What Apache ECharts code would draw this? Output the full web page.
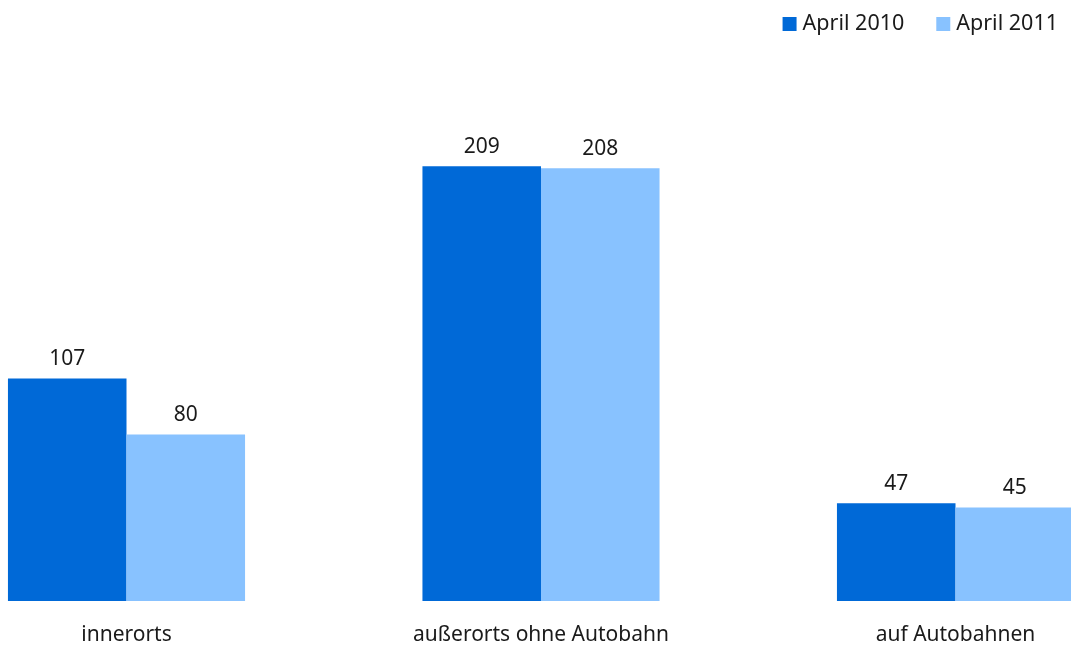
<!DOCTYPE html>
<html><head><meta charset="utf-8">
<script src="https://cdn.jsdelivr.net/npm/echarts@6/dist/echarts.min.js"></script>
<style>html,body{margin:0;padding:0;background:#fff}#c{width:1071px;height:648px}</style>
</head><body><div id="c"></div>
<script>
const categories = ['innerorts', 'außerorts ohne Autobahn', 'auf Autobahnen'];
const seriesNames = ['April 2010', 'April 2011'];
const values2010 = [107, 209, 47];
const values2011 = [80, 208, 45];
const colors = ['#0069D7', '#88C2FF'];

const chart = echarts.init(document.getElementById('c'));
const font = 'Noto Sans';
const labelStyle = {show: true, position: 'top', distance: 9, color: '#1a1a1a', fontFamily: font, fontSize: 21};
chart.setOption({
  animation: false,
  textStyle: {fontFamily: font},
  legend: {
    right: 8, top: 8, itemWidth: 14, itemHeight: 14, itemGap: 32,
    icon: 'rect',
    textStyle: {fontSize: 21.5, color: '#1a1a1a', fontFamily: font, padding: [0,0,0,1]},
    data: seriesNames
  },
  grid: {left: -80.75, width: 1243.5, top: 81, height: 520, containLabel: false, outerBoundsMode: 'none'},
  xAxis: {
    type: 'category', data: categories,
    axisLine: {show: false}, axisTick: {show: false},
    axisLabel: {color: '#1a1a1a', fontSize: 21, fontFamily: font, margin: 24}
  },
  yAxis: {type: 'value', min: 0, max: 250, show: false, splitLine: {show: false}},
  series: [
    {name: seriesNames[0], type: 'bar', data: values2010, itemStyle: {color: colors[0]}, barGap: '0%', barCategoryGap: '42.8%', label: labelStyle},
    {name: seriesNames[1], type: 'bar', data: values2011, itemStyle: {color: colors[1]}, barGap: '0%', barCategoryGap: '42.8%', label: labelStyle}
  ]
});
</script></body></html>
